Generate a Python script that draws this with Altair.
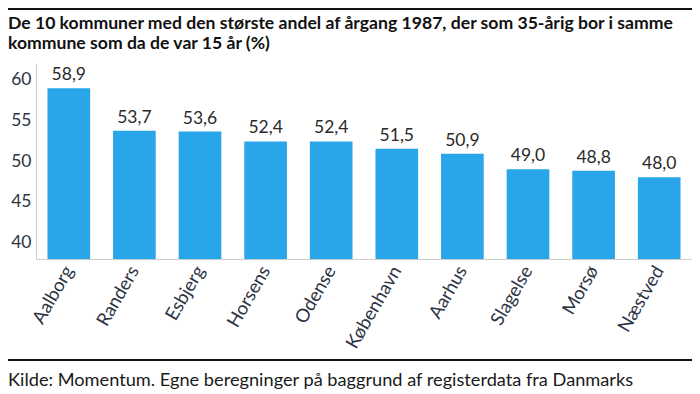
import altair as alt
import pandas as pd

kommuner = ["Aalborg", "Randers", "Esbjerg", "Horsens", "Odense",
            "København", "Aarhus", "Slagelse", "Morsø", "Næstved"]
andel = [58.9, 53.7, 53.6, 52.4, 52.4, 51.5, 50.9, 49.0, 48.8, 48.0]
y_ticks = [40, 45, 50, 55, 60]
title_lines = [
    "De 10 kommuner med den største andel af årgang 1987, der som 35-årig bor i samme",
    "kommune som da de var 15 år (%)",
]
source_text = "Kilde: Momentum. Egne beregninger på baggrund af registerdata fra Danmarks"

df = pd.DataFrame({"kommune": kommuner, "andel": andel})

W, H = 656, 196
LEFT, TOP = 28, 55
FONT = "Lato"
BAR = "#29a6e9"
LABEL = "#2d3444"

x_enc = alt.X(
    "kommune:N", sort=None, title=None,
    scale=alt.Scale(paddingInner=0.35, paddingOuter=0.175),
    axis=alt.Axis(labelAngle=-60, labelFontSize=18.5, labelColor=LABEL, labelFont=FONT,
                  ticks=False, domainColor="#cccccc", labelPadding=8,
                  labelAlign="right", labelBaseline="middle"),
)
y_enc = alt.Y(
    "andel:Q", title=None,
    scale=alt.Scale(domain=[38, 62], nice=False, zero=False, clamp=True),
    axis=alt.Axis(values=y_ticks, grid=False, ticks=False, labelFontSize=17.5,
                  labelColor=LABEL, labelFont=FONT, domainColor="#cccccc",
                  labelPadding=5),
)

bars = alt.Chart(df).mark_bar(color=BAR).encode(x=x_enc, y=y_enc)

values = alt.Chart(df).transform_calculate(
    lab="replace(format(datum.andel, '.1f'), '.', ',')"
).mark_text(baseline="bottom", dy=-4, fontSize=17.5, font=FONT, color="#2a2a2a").encode(
    x=alt.X("kommune:N", sort=None), y="andel:Q", text="lab:N"
)

t1 = alt.Chart(pd.DataFrame({"t": [title_lines[0]]})).mark_text(
    align="left", baseline="alphabetic", fontSize=17.6, fontWeight="bold", font=FONT, color="#111111"
).encode(x=alt.value(-LEFT), y=alt.value(-34.5), text="t:N")

t2 = alt.Chart(pd.DataFrame({"t": [title_lines[1]]})).mark_text(
    align="left", baseline="alphabetic", fontSize=17.6, fontWeight="bold", font=FONT, color="#111111"
).encode(x=alt.value(-LEFT), y=alt.value(-14.5), text="t:N")

src = alt.Chart(pd.DataFrame({"t": [source_text]})).mark_text(
    align="left", baseline="alphabetic", fontSize=18.2, font=FONT, color="#1a1a1a"
).encode(x=alt.value(-LEFT), y=alt.value(323), text="t:N")

one = pd.DataFrame({"a": [0]})
rule_top = alt.Chart(one).mark_rule(color="#111111", strokeWidth=2).encode(
    x=alt.value(-LEFT), x2=alt.value(W), y=alt.value(-54)
)
rule_bot = alt.Chart(one).mark_rule(color="#111111", strokeWidth=2).encode(
    x=alt.value(-LEFT), x2=alt.value(W), y=alt.value(297)
)

chart = alt.layer(bars, values, t1, t2, src, rule_top, rule_bot).properties(
    width=W, height=H,
    autosize=alt.AutoSizeParams(type="none"),
    padding={"left": LEFT, "top": TOP, "right": 0, "bottom": 135},
    background="white",
).configure(font=FONT).configure_view(stroke=None)

chart.save("out.html", embed_options={"renderer": "svg", "actions": False})
